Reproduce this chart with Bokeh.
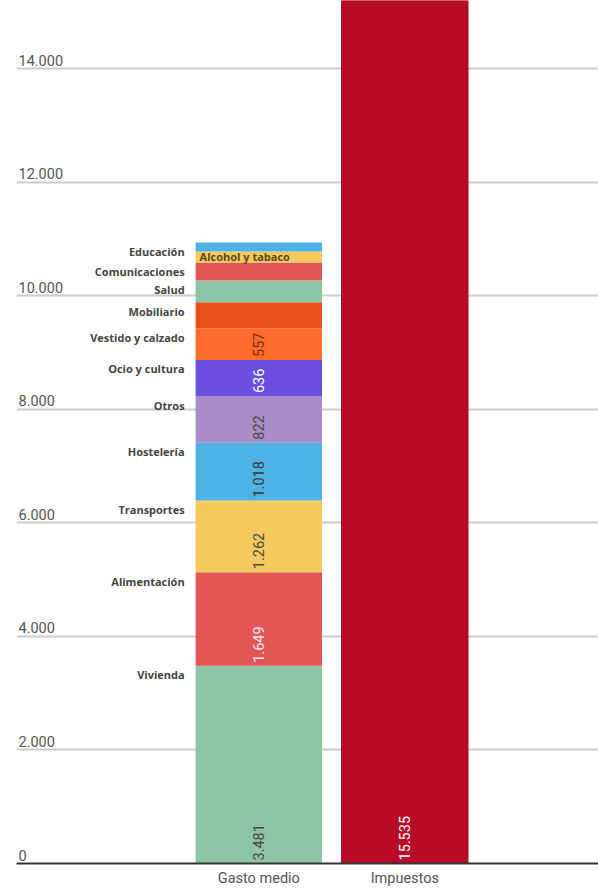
import math
from bokeh.plotting import figure
from bokeh.models import ColumnDataSource, FixedTicker, Range1d
from bokeh.core.properties import value
from bokeh.embed import file_html
from bokeh.resources import INLINE

# ---- data ----
categories = ["Vivienda", "Alimentación", "Transportes", "Hostelería", "Otros",
              "Ocio y cultura", "Vestido y calzado", "Mobiliario", "Salud",
              "Comunicaciones", "Alcohol y tabaco", "Educación"]
gasto = [3481, 1649, 1262, 1018, 822, 636, 557, 457, 387, 317, 193, 158]
impuestos = 15535
bar_names = ["Gasto medio", "Impuestos"]
y_ticks = [0, 2000, 4000, 6000, 8000, 10000, 12000, 14000]
y_tick_labels = ["0", "2.000", "4.000", "6.000", "8.000", "10.000", "12.000", "14.000"]

# ---- styles ----
seg_colors = ["#8dc3a6", "#e35656", "#f6c95c", "#4fb2e6", "#a98cc8", "#6a4fe0",
              "#ff6b2b", "#e9501a", "#8dc3a6", "#e35656", "#f6c95c", "#4fb2e6"]
val_colors = ["#4a4a4a", "#ffe9ea", "#4a4a4a", "#3a3a3a", "#4a4a4a", "#ffffff",
              "#7a2e10", "#4a4a4a", "#4a4a4a", "#4a4a4a", "#4a4a4a", "#4a4a4a"]
imp_color = "#b90b27"
inside_labels = ["Alcohol y tabaco"]


def fmt(v):
    return f"{v:,}".replace(",", ".")


bottoms, tops = [], []
acc = 0
for v in gasto:
    bottoms.append(acc)
    acc += v
    tops.append(acc)

p = figure(width=598, height=889, output_backend="svg", toolbar_location=None,
           x_range=Range1d(-1.66, 2.327), y_range=Range1d(0, 15198),
           min_border_left=16, min_border_right=0, min_border_top=0,
           min_border_bottom=25)
p.outline_line_color = None
p.background_fill_color = "white"
p.border_fill_color = "white"

W = 0.866
seg_src = ColumnDataSource(dict(x=[0] * len(gasto), bottom=bottoms, top=tops,
                                color=seg_colors))
p.vbar(x="x", bottom="bottom", top="top", width=W, fill_color="color",
       line_color=None, source=seg_src)
p.vbar(x=[1], bottom=[0], top=[impuestos], width=W, fill_color=imp_color,
       line_color="#a00820", line_width=1)

# value labels inside segments (rotated)
vl = dict(x=[], y=[], text=[], color=[])
for v, b, c in zip(gasto, bottoms, val_colors):
    if v >= 500:
        vl["x"].append(0)
        vl["y"].append(b)
        vl["text"].append(fmt(v))
        vl["color"].append(c)
vl["x"].append(1)
vl["y"].append(0)
vl["text"].append(fmt(impuestos))
vl["color"].append("#ffffff")
p.text(x="x", y="y", text="text", text_color="color", source=ColumnDataSource(vl),
       angle=math.pi / 2, text_align="left", text_baseline="middle",
       y_offset=-3, text_font=value("Roboto"), text_font_size="14.5px")

# category labels left of the bar
cl = dict(x=[], y=[], text=[])
for name, t in zip(categories, tops):
    if name in inside_labels:
        continue
    cl["x"].append(-W / 2)
    cl["y"].append(t)
    cl["text"].append(name)
p.text(x="x", y="y", text="text", source=ColumnDataSource(cl),
       text_align="right", text_baseline="middle", x_offset=-11, y_offset=9,
       text_font=value("Open Sans"), text_font_style="bold",
       text_font_size="11px", text_color="#444444")

il = dict(x=[], y=[], text=[])
for name, b, t in zip(categories, bottoms, tops):
    if name in inside_labels:
        il["x"].append(-W / 2)
        il["y"].append((b + t) / 2)
        il["text"].append(name)
p.text(x="x", y="y", text="text", source=ColumnDataSource(il),
       text_align="left", text_baseline="middle", x_offset=4,
       text_font=value("Open Sans"), text_font_style="bold",
       text_font_size="11px", text_color="#5a4a1c")

# y tick labels inside the plot, above grid lines
p.text(x=[-1.66] * len(y_ticks), y=y_ticks, text=y_tick_labels,
       text_align="left", text_baseline="bottom", x_offset=2, y_offset=-3,
       text_font=value("Roboto"), text_font_size="14.5px", text_color="#555555")

p.yaxis.visible = False
p.xgrid.visible = False
p.ygrid.ticker = FixedTicker(ticks=y_ticks[1:])
p.ygrid.grid_line_color = "#cccccc"
p.ygrid.grid_line_width = 2

p.xaxis.ticker = FixedTicker(ticks=[0, 1])
p.xaxis.major_label_overrides = {0: bar_names[0], 1: bar_names[1]}
p.xaxis.major_tick_line_color = None
p.xaxis.minor_tick_line_color = None
p.xaxis.major_tick_out = 0
p.xaxis.major_tick_in = 0
p.xaxis.axis_line_color = "#333333"
p.xaxis.axis_line_width = 2
p.xaxis.major_label_standoff = 6
p.xaxis.major_label_text_font = "Roboto"
p.xaxis.major_label_text_font_size = "14.5px"
p.xaxis.major_label_text_color = "#555555"

open("out.html", "w").write(file_html(p, INLINE))
